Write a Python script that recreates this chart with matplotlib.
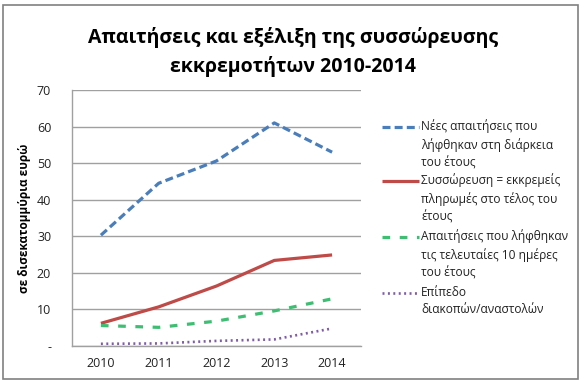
#!/usr/bin/env python

# Claims and arrears accumulation 2010-2014

import matplotlib
matplotlib.use('Agg')
import matplotlib.pyplot as plt
from matplotlib.lines import Line2D
from matplotlib.patches import Rectangle

plt.rcParams['font.family'] = ['Open Sans', 'DejaVu Sans']

# Data (billion euro)
years = ['2010', '2011', '2012', '2013', '2014']
new_claims = [30.3, 44.5, 50.6, 61.0, 53.0]
arrears = [6.2, 10.7, 16.4, 23.4, 24.9]
last_days = [5.6, 5.1, 6.8, 9.6, 12.9]
suspensions = [0.6, 0.7, 1.4, 1.8, 4.8]

labels = ['Νέες απαιτήσεις που\nλήφθηκαν στη διάρκεια\nτου έτους',
          'Συσσώρευση = εκκρεμείς\nπληρωμές στο τέλος του\nέτους',
          'Απαιτήσεις που λήφθηκαν\nτις τελευταίες 10 ημέρες\nτου έτους',
          'Επίπεδο\nδιακοπών/αναστολών']
yticks = [0, 10, 20, 30, 40, 50, 60, 70]
yticklabels = ['-', '10', '20', '30', '40', '50', '60', '70']

series = [new_claims, arrears, last_days, suspensions]
styles = [dict(color='#4A7EBB', lw=2.3, dashes=(2.5, 1.3)),
          dict(color='#BE4B48', lw=2.3, ls='-'),
          dict(color='#3DBE72', lw=2.3, dashes=(2.4, 3.0)),
          dict(color='#7E5CA8', lw=1.9, dashes=(0.75, 1.3))]

fig = plt.figure(figsize=(5.84, 3.86), dpi=100)
fig.patches.append(Rectangle((3 / 584, 1 - 379 / 386), 575 / 584, 374 / 386,
                             transform=fig.transFigure, fill=False,
                             edgecolor='#808080', lw=1.2))

ax = fig.add_axes([72 / 584, 40 / 386, 289 / 584, 256 / 386])
x = range(len(years))
for s, st in zip(series, styles):
    ax.plot(x, s, solid_capstyle='butt', dash_capstyle='butt', **st)

ax.set_xlim(-0.5, len(years) - 0.5)
ax.set_ylim(0, 70)
ax.set_xticks(list(x))
ax.set_xticklabels(years)
ax.set_yticks(yticks)
ax.set_yticklabels(yticklabels)
ax.tick_params(length=0, labelsize=9, colors='#222222', pad=8)
ax.tick_params(axis='y', pad=15)
ax.grid(axis='y', color='#A0A0A0', lw=1.0)
ax.set_axisbelow(True)
for sp in ['top', 'right']:
    ax.spines[sp].set_visible(False)
for sp in ['left', 'bottom']:
    ax.spines[sp].set_color('#A0A0A0')
    ax.spines[sp].set_linewidth(1.0)
ax.set_ylabel('σε δισεκατομμύρια ευρώ', fontsize=8.5, fontweight='bold', labelpad=4)

# Title
fig.text(293 / 584, 1 - 52 / 386, 'Απαιτήσεις και εξέλιξη της συσσώρευσης\nεκκρεμοτήτων 2010-2014',
         ha='center', va='center', fontsize=14, fontweight='bold',
         linespacing=1.45)

# Legend (handle aligned with first text line, as in Excel)
tops = [127, 181, 237, 293]
for lab, st, yt in zip(labels, styles, tops):
    yf = 1 - yt / 386
    fig.add_artist(Line2D([382 / 584, 419 / 584], [yf, yf], transform=fig.transFigure,
                          dash_capstyle='butt', solid_capstyle='butt', **st))
    fig.text(421 / 584, yf + 7.5 / 386, lab, ha='left', va='top', fontsize=8.6,
             linespacing=1.45, color='#222222')

plt.savefig('out.png', dpi=100)
